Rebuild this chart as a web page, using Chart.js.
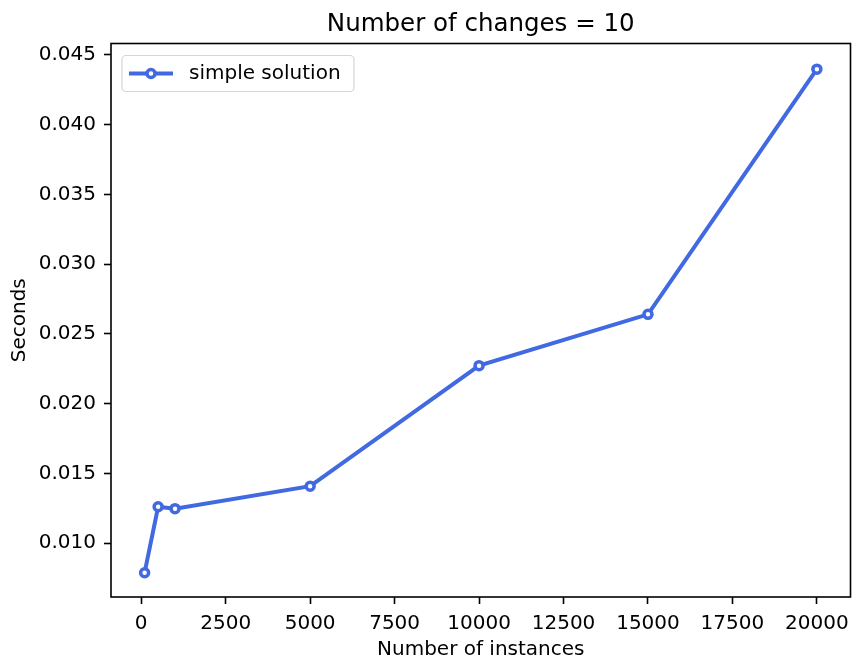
<!DOCTYPE html>
<html>
<head>
<meta charset="utf-8">
<script src="https://cdn.jsdelivr.net/npm/chart.js@4"></script>
<style>
  html, body { margin: 0; padding: 0; background: #fff; }
  #wrap { width: 858px; height: 664px; position: relative; }
</style>
</head>
<body>
<div id="wrap"><canvas id="timingChart"></canvas></div>
<script>
const instances = [100, 500, 1000, 5000, 10000, 15000, 20000];
const seconds = [0.00789, 0.01262, 0.01248, 0.01409, 0.02273, 0.02641, 0.04398];
const xTicks = [0, 2500, 5000, 7500, 10000, 12500, 15000, 17500, 20000];
const yTicks = [0.010, 0.015, 0.020, 0.025, 0.030, 0.035, 0.040, 0.045];
const seriesLabel = 'simple solution';
const chartTitle = 'Number of changes = 10';

const FONT = "'DejaVu Sans', sans-serif";
const BLUE = '#4169E1';

// no extra padding from tick labels, the axes box is fixed like matplotlib's
function noPadding(s) {
    s.paddingLeft = 0;
    s.paddingRight = 0;
    s.paddingTop = 0;
    s.paddingBottom = 0;
}

// matplotlib-like frame, title over the axes, legend box in the top-left corner
const framePlugin = {
    id: 'frame',
    afterDraw(chart) {
        const { ctx, chartArea: a } = chart;
        ctx.save();
        ctx.strokeStyle = '#000';
        ctx.lineWidth = 1.6;
        ctx.strokeRect(a.left, a.top, a.right - a.left, a.bottom - a.top);

        // title centred on the axes
        ctx.fillStyle = '#000';
        ctx.font = '24.5px ' + FONT;
        ctx.textAlign = 'center';
        ctx.textBaseline = 'alphabetic';
        ctx.fillText(chartTitle, (a.left + a.right) / 2, a.top - 12.5);

        // legend
        const ds = chart.data.datasets[0];
        const bx = a.left + 11, by = a.top + 12, bw = 232, bh = 36;
        ctx.fillStyle = 'rgba(255,255,255,0.8)';
        ctx.strokeStyle = '#d6d6d6';
        ctx.lineWidth = 1.2;
        ctx.beginPath();
        ctx.roundRect(bx, by, bw, bh, 4);
        ctx.fill();
        ctx.stroke();

        const ly = by + bh / 2;
        ctx.strokeStyle = ds.borderColor;
        ctx.lineWidth = ds.borderWidth;
        ctx.beginPath();
        ctx.moveTo(bx + 7, ly);
        ctx.lineTo(bx + 51, ly);
        ctx.stroke();
        ctx.beginPath();
        ctx.arc(bx + 29, ly, ds.pointRadius, 0, Math.PI * 2);
        ctx.fillStyle = '#fff';
        ctx.fill();
        ctx.lineWidth = ds.pointBorderWidth;
        ctx.stroke();

        ctx.fillStyle = '#000';
        ctx.font = '20px ' + FONT;
        ctx.textBaseline = 'middle';
        ctx.textAlign = 'left';
        ctx.fillText(ds.label, bx + 67, ly);
        ctx.restore();
    }
};

new Chart(document.getElementById('timingChart'), {
    type: 'line',
    data: {
        datasets: [{
            label: seriesLabel,
            data: instances.map((x, i) => ({ x: x, y: seconds[i] })),
            borderColor: BLUE,
            borderWidth: 4,
            pointRadius: 4,
            pointBorderWidth: 3.5,
            pointBackgroundColor: '#fff',
            pointBorderColor: BLUE,
            tension: 0,
            fill: false
        }]
    },
    options: {
        responsive: true,
        maintainAspectRatio: false,
        animation: false,
        devicePixelRatio: 1,
        layout: { padding: { top: 43.5, left: 0, right: 5, bottom: 0 } },
        scales: {
            x: {
                type: 'linear',
                min: -895,
                max: 20995,
                afterBuildTicks: (s) => { s.ticks = xTicks.map(v => ({ value: v })); },
                afterFit: (s) => { s.height = 67; noPadding(s); },
                ticks: {
                    color: '#000',
                    font: { family: FONT, size: 20 },
                    padding: 7.5,
                    maxRotation: 0,
                    callback: (v) => String(v)
                },
                grid: {
                    display: true,
                    drawOnChartArea: false,
                    drawTicks: true,
                    tickLength: 7,
                    tickWidth: 1.6,
                    tickColor: '#000'
                },
                border: { display: false },
                title: {
                    display: true,
                    text: 'Number of instances',
                    color: '#000',
                    font: { family: FONT, size: 20 },
                    padding: { top: 0, bottom: 2.5 }
                }
            },
            y: {
                type: 'linear',
                min: 0.00615,
                max: 0.04582,
                afterBuildTicks: (s) => { s.ticks = yTicks.map(v => ({ value: v })); },
                afterFit: (s) => { s.width = 111; noPadding(s); },
                ticks: {
                    color: '#000',
                    font: { family: FONT, size: 20 },
                    padding: 8,
                    callback: (v) => v.toFixed(3)
                },
                grid: {
                    display: true,
                    drawOnChartArea: false,
                    drawTicks: true,
                    tickLength: 7,
                    tickWidth: 1.6,
                    tickColor: '#000'
                },
                border: { display: false },
                title: {
                    display: true,
                    text: 'Seconds',
                    color: '#000',
                    font: { family: FONT, size: 20 },
                    padding: { top: 7.5, bottom: 0 }
                }
            }
        },
        plugins: {
            legend: { display: false },
            tooltip: { enabled: false },
            title: { display: false }
        }
    },
    plugins: [framePlugin]
});
</script>
</body>
</html>
